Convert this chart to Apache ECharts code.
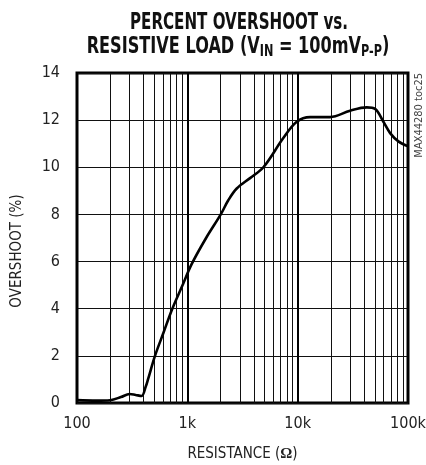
<!DOCTYPE html>
<html>
<head>
<meta charset="utf-8">
<script src="https://cdn.jsdelivr.net/npm/echarts@6/dist/echarts.min.js"></script>
<style>
  html, body { margin: 0; padding: 0; background: #fff; }
  #chart { width: 426px; height: 465px; }
</style>
</head>
<body>
<div id="chart"></div>
<script>
var FONT = '"Liberation Sans Narrow", "DejaVu Sans Condensed", "Roboto", sans-serif';

// resistance (ohm)
var resistance = [100, 150, 200, 250, 300, 340, 385, 420, 440, 509, 610, 731, 896, 1097, 1479, 2009, 2350, 2804, 3702, 4890, 7410, 9810, 12950, 19660, 29870, 42290, 50300, 59850, 68850, 81850, 100000];
// overshoot (%)
var overshoot = [0.12, 0.1, 0.12, 0.25, 0.38, 0.34, 0.3, 0.7, 1.0, 2.0, 3.0, 4.0, 4.95, 5.9, 7.0, 8.0, 8.6, 9.1, 9.54, 10.0, 11.24, 11.93, 12.13, 12.13, 12.4, 12.54, 12.48, 11.93, 11.45, 11.1, 10.89];

// log grid: decades and the 2..9 lines between them
var decades = [100, 1000, 10000];
var minorSteps = [2, 3, 4, 5, 6, 7, 8, 9];
var xTickLabels = { 100: '100', 1000: '1k', 10000: '10k', 100000: '100k' };

var minorLines = [];
decades.forEach(function (d) {
	minorSteps.forEach(function (m) {
		minorLines.push({ xAxis: d * m });
	});
});

var titleRich = {
	t: { fontFamily: FONT, fontWeight: 'bold', fontSize: 23, fill: '#111' },
	s: { fontFamily: FONT, fontWeight: 'bold', fontSize: 16, fill: '#111', padding: [9, 0, 0, 0] }
};

var chart = echarts.init(document.getElementById('chart'));

var option = {
	animation: false,
	grid: {
		left: 77,
		right: 18,
		top: 73,
		bottom: 62,
		show: true,
		borderColor: '#000',
		borderWidth: 3,
		containLabel: false,
		outerBoundsMode: 'none'
	},
	graphic: [{
		type: 'text',
		x: 239,
		y: 23,
		scaleX: 0.73,
		style: {
			text: '{t|PERCENT OVERSHOOT vs.}',
			rich: titleRich,
			textAlign: 'center',
			textVerticalAlign: 'middle'
		}
	}, {
		type: 'text',
		x: 238,
		y: 47,
		scaleX: 0.78,
		style: {
			text: '{t|RESISTIVE LOAD (V}{s|IN}{t| = 100mV}{s|P-P}{t|)}',
			rich: titleRich,
			textAlign: 'center',
			textVerticalAlign: 'middle'
		}
	}, {
		type: 'text',
		x: 17,
		y: 251,
		rotation: Math.PI / 2,
		style: {
			text: 'OVERSHOOT (%)',
			font: '15px ' + FONT,
			fill: '#222',
			textAlign: 'center',
			textVerticalAlign: 'middle'
		}
	}, {
		type: 'text',
		x: 419,
		y: 73,
		rotation: Math.PI / 2,
		style: {
			text: 'MAX44280 toc25',
			font: '11px ' + FONT,
			fill: '#444',
			textAlign: 'right',
			textVerticalAlign: 'middle'
		}
	}],
	xAxis: {
		type: 'log',
		logBase: 10,
		min: 100,
		max: 100000,
		name: '{n|RESISTANCE (}{o|Ω}{n|)}',
		nameLocation: 'middle',
		nameGap: 44,
		nameTextStyle: {
			rich: {
				n: { fontFamily: FONT, fontSize: 15, color: '#222' },
				o: { fontFamily: 'Liberation Serif, serif', fontWeight: 'bold', fontSize: 15, color: '#222' }
			}
		},
		axisLine: { show: false },
		axisTick: { show: false },
		axisLabel: {
			margin: 13,
			fontFamily: FONT,
			fontSize: 16,
			color: '#222',
			formatter: function (v) { return xTickLabels[Math.round(v)] || ''; }
		},
		splitLine: { show: true, lineStyle: { color: '#000', width: 2 } }
	},
	yAxis: {
		type: 'value',
		min: 0,
		max: 14,
		interval: 2,
		axisLine: { show: false },
		axisTick: { show: false },
		axisLabel: {
			margin: 17,
			fontFamily: FONT,
			fontSize: 16,
			color: '#222'
		},
		splitLine: { show: true, lineStyle: { color: '#111', width: 1.2 } }
	},
	series: [{
		type: 'line',
		data: resistance.map(function (r, i) { return [r, overshoot[i]]; }),
		showSymbol: false,
		smooth: 0.35,
		lineStyle: { color: '#000', width: 2.6 },
		z: 5,
		markLine: {
			silent: true,
			symbol: 'none',
			label: { show: false },
			lineStyle: { color: '#111', width: 1, type: 'solid' },
			data: minorLines,
			z: 1
		}
	}]
};

chart.setOption(option);
</script>
</body>
</html>
